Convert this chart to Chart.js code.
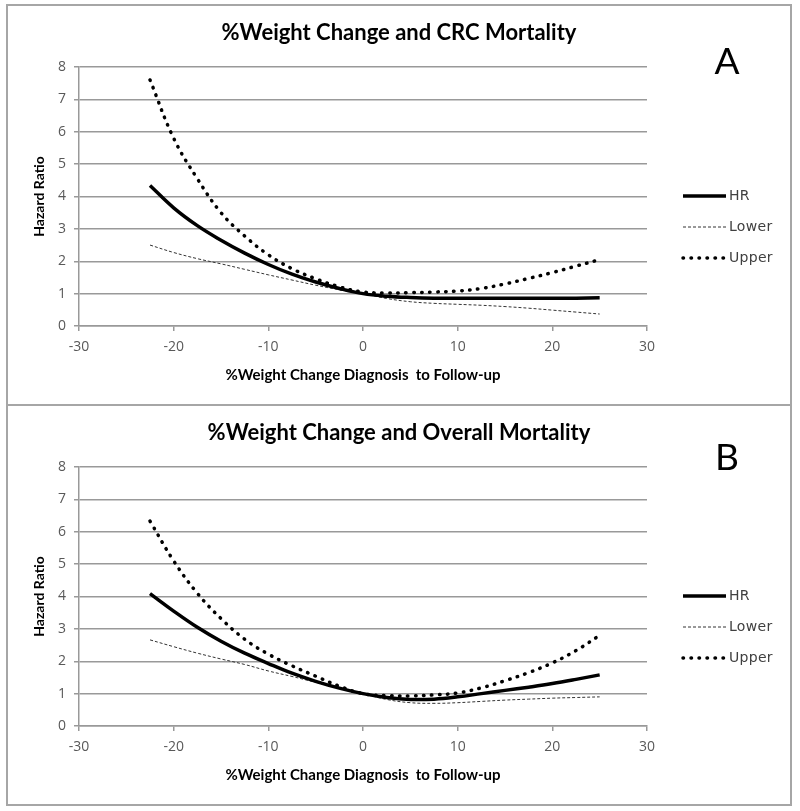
<!DOCTYPE html>
<html>
<head>
<meta charset="utf-8">
<script src="https://cdn.jsdelivr.net/npm/chart.js@4.4.1/dist/chart.umd.min.js"></script>
<style>
  body { margin: 0; background: #fff; }
  .panel { position: absolute; left: 6px; width: 786px; height: 402px; box-sizing: border-box; border: 2px solid #a6a6a6; }
  #panelA { top: 4px; }
  #panelB { top: 404px; }
  .panel canvas { display: block; }
</style>
</head>
<body>
<div class="panel" id="panelA"><canvas id="chartA" width="782" height="398"></canvas></div>
<div class="panel" id="panelB"><canvas id="chartB" width="782" height="398"></canvas></div>
<script>
// % weight change, diagnosis to follow-up
const weightChange = [-22.5, -20, -17.5, -15, -12.5, -10, -7.5, -5, -2.5, 0, 2.5, 5, 7.5, 10, 12.5, 15, 17.5, 20, 22.5, 25];

// A: CRC mortality
const hrCrc    = [4.34, 3.65, 3.1, 2.65, 2.25, 1.9, 1.6, 1.36, 1.16, 1.0, 0.92, 0.88, 0.86, 0.86, 0.86, 0.86, 0.86, 0.86, 0.86, 0.87];
const lowerCrc = [2.5, 2.27, 2.08, 1.92, 1.75, 1.58, 1.42, 1.26, 1.12, 1.0, 0.85, 0.75, 0.7, 0.67, 0.64, 0.6, 0.55, 0.49, 0.43, 0.37];
const upperCrc = [7.6, 5.8, 4.55, 3.5, 2.78, 2.2, 1.77, 1.46, 1.21, 1.05, 1.02, 1.03, 1.05, 1.08, 1.16, 1.3, 1.47, 1.65, 1.85, 2.05];

// B: overall mortality
const hrAll    = [4.09, 3.55, 3.05, 2.62, 2.25, 1.93, 1.63, 1.38, 1.17, 1.0, 0.88, 0.82, 0.83, 0.9, 1.0, 1.1, 1.2, 1.31, 1.44, 1.58];
const lowerAll = [2.66, 2.45, 2.25, 2.07, 1.9, 1.7, 1.53, 1.35, 1.17, 1.0, 0.82, 0.72, 0.7, 0.72, 0.76, 0.8, 0.83, 0.86, 0.88, 0.9];
const upperAll = [6.33, 5.1, 4.1, 3.32, 2.68, 2.22, 1.86, 1.54, 1.23, 1.0, 0.94, 0.93, 0.96, 1.02, 1.18, 1.4, 1.65, 1.95, 2.33, 2.8];

const seriesNames = ['HR', 'Lower', 'Upper'];
const xTitle = '%Weight Change Diagnosis  to Follow-up';
const yTitle = 'Hazard Ratio';

const axisGray = '#999999';
const tickFont = { family: '"Open Sans"', size: 14 };

// legend at right + panel letter
const panelExtras = {
    id: 'panelExtras',
    afterDraw(chart, args, opts) {
        const { ctx, chartArea } = chart;
        ctx.save();
        chart.data.datasets.forEach((ds, i) => {
            const y = chartArea.top + 129 + i * 31;
            const x0 = chartArea.right + 36;
            ctx.beginPath();
            ctx.strokeStyle = ds.borderColor;
            ctx.lineWidth = ds.borderWidth;
            ctx.setLineDash(ds.borderDash || []);
            ctx.lineCap = ds.borderCapStyle || 'butt';
            ctx.moveTo(x0, y);
            ctx.lineTo(x0 + 43, y);
            ctx.stroke();
            ctx.setLineDash([]);
            ctx.fillStyle = '#404040';
            ctx.font = '14px "DejaVu Sans"';
            ctx.letterSpacing = '0.3px';
            ctx.textBaseline = 'middle';
            ctx.fillText(ds.label, x0 + 46, y);
        });
        ctx.letterSpacing = '0px';
        ctx.font = opts.size + 'px Lato';
        ctx.fillStyle = '#000';
        ctx.textAlign = 'center';
        ctx.textBaseline = 'middle';
        ctx.fillText(opts.letter, chartArea.right + 80, opts.y);
        ctx.restore();
    }
};

function makeChart(id, title, hr, lower, upper, letter, letterY) {
    const pts = arr => weightChange.map((x, i) => ({ x: x, y: arr[i] }));
    new Chart(document.getElementById(id), {
        type: 'line',
        data: {
            datasets: [
                { label: seriesNames[0], data: pts(hr), borderColor: '#000', borderWidth: 3.5, pointRadius: 0, tension: 0.4 },
                { label: seriesNames[1], data: pts(lower), borderColor: '#333', borderWidth: 1, borderDash: [3, 2], pointRadius: 0, tension: 0.4 },
                { label: seriesNames[2], data: pts(upper), borderColor: '#000', borderWidth: 3.5, borderDash: [0.5, 7.5], borderCapStyle: 'round', pointRadius: 0, tension: 0.4 }
            ]
        },
        options: {
            responsive: false,
            animation: false,
            layout: { padding: 0 },
            plugins: {
                legend: { display: false },
                tooltip: { enabled: false },
                title: {
                    display: true,
                    text: title,
                    color: '#000',
                    font: { family: 'Lato', size: 22, weight: 'bold' },
                    padding: { top: 14, bottom: 20.6 }
                },
                panelExtras: { letter: letter, size: 37, y: letterY }
            },
            scales: {
                x: {
                    type: 'linear',
                    min: -30,
                    max: 30,
                    afterFit: scale => { scale.height = 78; },
                    ticks: { stepSize: 10, color: '#595959', font: tickFont, padding: 8 },
                    grid: { drawOnChartArea: false, tickLength: 5, color: axisGray, lineWidth: 1.5 },
                    border: { color: axisGray, width: 1.5 },
                    title: {
                        display: true,
                        text: xTitle,
                        color: '#000',
                        font: { family: 'Lato', size: 15, weight: 'bold' },
                        padding: { top: 0, bottom: 20 }
                    }
                },
                y: {
                    min: 0,
                    max: 8,
                    afterFit: scale => { scale.width = 71; },
                    ticks: { stepSize: 1, color: '#595959', font: tickFont, padding: 8 },
                    grid: { tickLength: 5, color: axisGray, lineWidth: 1.5 },
                    border: { color: axisGray, width: 1.5 },
                    title: {
                        display: true,
                        text: yTitle,
                        color: '#000',
                        font: { family: 'Lato', size: 14, weight: 'bold' },
                        padding: { top: 23, bottom: 0 }
                    }
                },
                // empty right-hand axis that reserves the legend column
                legendSpace: {
                    type: 'linear',
                    position: 'right',
                    afterFit: scale => { scale.width = 143; },
                    ticks: { display: false },
                    grid: { display: false },
                    border: { display: false }
                }
            }
        },
        plugins: [panelExtras]
    });
}

makeChart('chartA', '%Weight Change and CRC Mortality', hrCrc, lowerCrc, upperCrc, 'A', 56);
makeChart('chartB', '%Weight Change and Overall Mortality', hrAll, lowerAll, upperAll, 'B', 52);
</script>
</body>
</html>
